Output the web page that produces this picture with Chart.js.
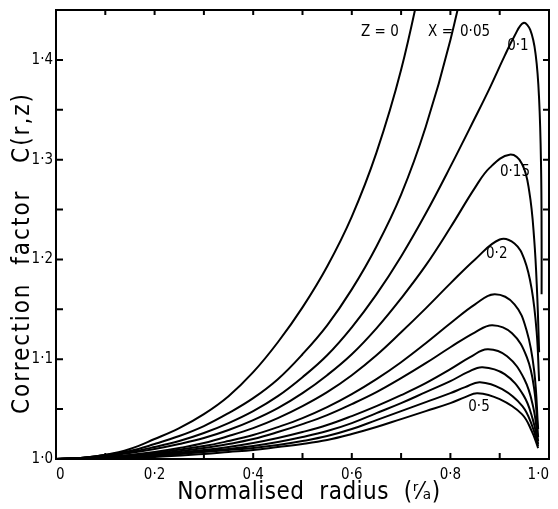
<!DOCTYPE html>
<html>
<head>
<meta charset="utf-8">
<script src="https://cdn.jsdelivr.net/npm/chart.js@4.4.1/dist/chart.umd.min.js"></script>
<style>
  html, body { margin: 0; padding: 0; background: #fff; }
  #wrap { width: 558px; height: 509px; }
</style>
</head>
<body>
<div id="wrap"><canvas id="chart" width="558" height="509"></canvas></div>
<script>
// ---- data: r/a and C(r,z) for each X ----
const rX000 = [0, 0.05, 0.1, 0.15, 0.2, 0.25, 0.3, 0.35, 0.4, 0.45, 0.5, 0.55, 0.6, 0.65, 0.7, 0.75];
const cX000 = [1, 1.001, 1.004, 1.01, 1.02, 1.031, 1.045, 1.063, 1.087, 1.117, 1.152, 1.193, 1.243, 1.307, 1.39, 1.5];

const rX005 = [0, 0.05, 0.1, 0.15, 0.2, 0.25, 0.3, 0.35, 0.4, 0.45, 0.5, 0.55, 0.6, 0.65, 0.7, 0.75, 0.8, 0.85];
const cX005 = [1, 1.001, 1.004, 1.008, 1.015, 1.023, 1.033, 1.046, 1.061, 1.08, 1.105, 1.134, 1.17, 1.213, 1.265, 1.333, 1.42, 1.53];

const rX010 = [0, 0.05, 0.1, 0.15, 0.2, 0.25, 0.3, 0.35, 0.4, 0.45, 0.5, 0.55, 0.6, 0.65, 0.7, 0.75, 0.8, 0.85, 0.88, 0.91, 0.93, 0.948, 0.962, 0.973, 0.98, 0.984, 0.985, 0.985];
const cX010 = [1, 1.001, 1.004, 1.007, 1.012, 1.018, 1.026, 1.036, 1.048, 1.063, 1.082, 1.104, 1.132, 1.165, 1.203, 1.246, 1.293, 1.342, 1.372, 1.404, 1.424, 1.437, 1.43, 1.405, 1.36, 1.29, 1.22, 1.165];

const rX015 = [0, 0.05, 0.1, 0.15, 0.2, 0.25, 0.3, 0.35, 0.4, 0.45, 0.5, 0.55, 0.6, 0.65, 0.7, 0.75, 0.8, 0.85, 0.88, 0.92, 0.945, 0.96, 0.97, 0.976, 0.98];
const cX015 = [1, 1.0005, 1.003, 1.006, 1.01, 1.015, 1.021, 1.029, 1.039, 1.051, 1.066, 1.084, 1.105, 1.131, 1.161, 1.194, 1.232, 1.272, 1.292, 1.305, 1.296, 1.268, 1.22, 1.165, 1.107];

const rX020 = [0, 0.1, 0.15, 0.2, 0.25, 0.3, 0.35, 0.4, 0.45, 0.5, 0.55, 0.6, 0.65, 0.7, 0.75, 0.8, 0.85, 0.9, 0.93, 0.95, 0.965, 0.975, 0.98];
const cX020 = [1, 1.002, 1.004, 1.007, 1.011, 1.016, 1.023, 1.031, 1.041, 1.053, 1.067, 1.084, 1.104, 1.127, 1.151, 1.176, 1.2, 1.22, 1.216, 1.2, 1.17, 1.127, 1.078];

const rX025 = [0, 0.1, 0.2, 0.3, 0.35, 0.4, 0.45, 0.5, 0.55, 0.6, 0.65, 0.7, 0.75, 0.8, 0.85, 0.89, 0.93, 0.955, 0.97, 0.978];
const cX025 = [1, 1.002, 1.006, 1.013, 1.018, 1.024, 1.032, 1.041, 1.052, 1.065, 1.08, 1.097, 1.116, 1.136, 1.155, 1.165, 1.155, 1.128, 1.088, 1.03];

const rX030 = [0, 0.1, 0.2, 0.3, 0.35, 0.4, 0.45, 0.5, 0.55, 0.6, 0.65, 0.7, 0.75, 0.8, 0.85, 0.885, 0.925, 0.955, 0.97, 0.978];
const cX030 = [1, 1.002, 1.005, 1.011, 1.015, 1.02, 1.027, 1.035, 1.044, 1.055, 1.067, 1.081, 1.096, 1.112, 1.127, 1.134, 1.126, 1.102, 1.07, 1.022];

const rX035 = [0, 0.1, 0.2, 0.3, 0.35, 0.4, 0.45, 0.5, 0.55, 0.6, 0.65, 0.7, 0.75, 0.8, 0.84, 0.875, 0.915, 0.95, 0.968, 0.978];
const cX035 = [1, 1.001, 1.004, 1.009, 1.012, 1.016, 1.021, 1.027, 1.034, 1.043, 1.053, 1.064, 1.076, 1.09, 1.102, 1.11, 1.103, 1.08, 1.052, 1.018];

const rX040 = [0, 0.1, 0.2, 0.3, 0.35, 0.4, 0.45, 0.5, 0.55, 0.6, 0.65, 0.7, 0.75, 0.8, 0.835, 0.865, 0.91, 0.948, 0.967, 0.978];
const cX040 = [1, 1.001, 1.003, 1.008, 1.01, 1.013, 1.017, 1.022, 1.028, 1.036, 1.046, 1.056, 1.067, 1.078, 1.087, 1.092, 1.085, 1.064, 1.04, 1.015];

const rX045 = [0, 0.1, 0.2, 0.3, 0.35, 0.4, 0.45, 0.5, 0.55, 0.6, 0.65, 0.7, 0.75, 0.8, 0.83, 0.86, 0.905, 0.946, 0.966, 0.978];
const cX045 = [1, 1.001, 1.003, 1.007, 1.009, 1.011, 1.014, 1.018, 1.023, 1.03, 1.039, 1.048, 1.057, 1.066, 1.072, 1.077, 1.07, 1.053, 1.033, 1.013];

const rX050 = [0, 0.1, 0.2, 0.3, 0.35, 0.4, 0.45, 0.5, 0.55, 0.6, 0.65, 0.7, 0.75, 0.8, 0.83, 0.855, 0.9, 0.945, 0.965, 0.978];
const cX050 = [1, 1.001, 1.002, 1.005, 1.007, 1.009, 1.012, 1.015, 1.019, 1.025, 1.032, 1.04, 1.048, 1.056, 1.062, 1.066, 1.06, 1.045, 1.028, 1.011];

const seriesR = [rX000, rX005, rX010, rX015, rX020, rX025, rX030, rX035, rX040, rX045, rX050];
const seriesC = [cX000, cX005, cX010, cX015, cX020, cX025, cX030, cX035, cX040, cX045, cX050];

// curve labels, anchored in data units
const labelText = ["Z = 0", "X =", "0\u00B705", "0\u00B71", "0\u00B715", "0\u00B72", "0\u00B75"];
const labelR = [0.657, 0.78, 0.85, 0.937, 0.931, 0.894, 0.858];
const labelC = [1.428, 1.428, 1.428, 1.414, 1.288, 1.205, 1.052];

const xTitle = "Normalised  radius  (\u02B3\u2044\u2090)";
const yTitle = "Correction  factor   C(r,z)";

const FONT = "'Liberation Sans Narrow', 'DejaVu Sans Condensed', 'Liberation Sans', sans-serif";
const dot = v => v.toFixed(1).replace('.', '\u00B7');

// frame with inward ticks, titles and curve labels
const paperFrame = {
  id: 'paperFrame',
  afterDatasetsDraw(chart) {
    const { ctx, chartArea: a, scales: { x, y } } = chart;
    ctx.save();
    ctx.strokeStyle = '#000';
    ctx.lineWidth = 2;
    ctx.strokeRect(a.left, a.top, a.right - a.left, a.bottom - a.top);

    ctx.beginPath();
    x.ticks.forEach(t => {
      const px = x.getPixelForValue(t.value);
      if (px <= a.left + 2 || px >= a.right - 2) return;
      ctx.moveTo(px, a.bottom); ctx.lineTo(px, a.bottom - 6);
      ctx.moveTo(px, a.top); ctx.lineTo(px, a.top + 5);
    });
    y.ticks.forEach(t => {
      const py = y.getPixelForValue(t.value);
      if (py >= a.bottom - 2 || py <= a.top + 2) return;
      ctx.moveTo(a.left, py); ctx.lineTo(a.left + 7, py);
      ctx.moveTo(a.right, py); ctx.lineTo(a.right - 6, py);
    });
    ctx.stroke();

    ctx.fillStyle = '#000';
    ctx.textAlign = 'center';
    ctx.textBaseline = 'middle';
    ctx.font = '15px ' + FONT;
    labelText.forEach((txt, i) => {
      ctx.fillText(txt, x.getPixelForValue(labelR[i]), y.getPixelForValue(labelC[i]));
    });

    ctx.font = '24px ' + FONT;
    ctx.letterSpacing = '0.5px';
    ctx.fillText(xTitle, 309, 493);
    ctx.letterSpacing = '2px';
    ctx.translate(23, 253);
    ctx.rotate(-Math.PI / 2);
    ctx.fillText(yTitle, 0, 0);
    ctx.restore();
  }
};

const datasets = seriesR.map((rs, i) => ({
  data: rs.map((r, j) => ({ x: r, y: seriesC[i][j] })),
  showLine: true,
  borderColor: '#000',
  borderWidth: 2,
  pointRadius: 0,
  tension: 0.4,
  fill: false
}));

new Chart(document.getElementById('chart'), {
  type: 'scatter',
  data: { datasets },
  options: {
    responsive: false,
    animation: false,
    layout: { padding: { top: 10, right: 9, left: 0, bottom: 0 } },
    plugins: { legend: { display: false }, tooltip: { enabled: false } },
    scales: {
      x: {
        type: 'linear', min: 0, max: 1,
        grid: { display: false, drawTicks: false },
        border: { display: false },
        ticks: {
          stepSize: 0.1, autoSkip: false, maxRotation: 0, padding: 7, align: 'inner',
          color: '#000', font: { size: 15, family: FONT },
          callback: v => (Math.round(v * 10) % 2 === 0 ? (v === 0 ? '0' : dot(v)) : '')
        },
        afterFit: s => { s.height = 50; s.paddingLeft = 0; s.paddingRight = 0; }
      },
      y: {
        type: 'linear', min: 1.0, max: 1.45,
        grid: { display: false, drawTicks: false },
        border: { display: false },
        ticks: {
          stepSize: 0.05, autoSkip: false, padding: 3,
          color: '#000', font: { size: 15, family: FONT },
          callback: v => (Math.round(v * 100) % 10 === 0 ? dot(v) : '')
        },
        afterFit: s => { s.width = 56; s.paddingTop = 0; s.paddingBottom = 0; }
      }
    }
  },
  plugins: [paperFrame]
});
</script>
</body>
</html>
